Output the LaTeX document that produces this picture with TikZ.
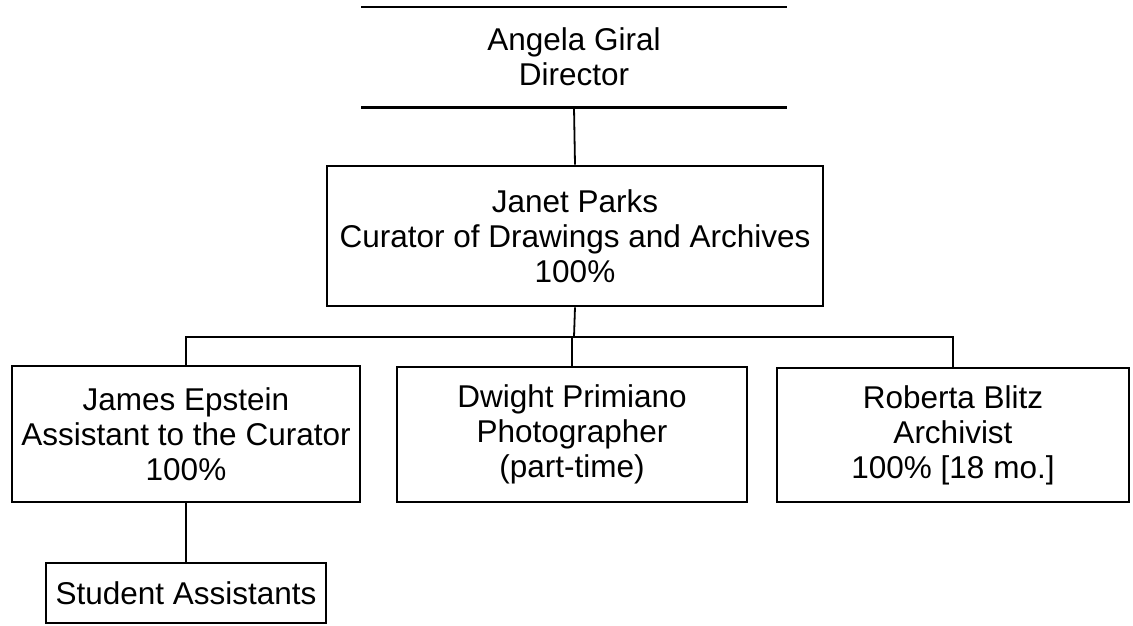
\documentclass[tikz,border=0pt]{standalone}
\usepackage{fontspec}
\setmainfont{Liberation Sans}
\begin{document}
\begin{tikzpicture}[x=1pt,y=-1pt,
  txt/.style={align=center,font=\fontsize{31.5}{35}\selectfont,inner sep=0pt},
  box/.style={txt,draw,line width=2.6pt},
  conn/.style={line width=1.8pt}]
\useasboundingbox (0,0) rectangle (1133,625);
\node[txt,minimum width=425pt,minimum height=100pt] (b1) at (574,57) {Angela Giral\\Director};
\draw[line width=2.6pt] (b1.north west) -- (b1.north east);
\draw[line width=2.6pt] (b1.south west) -- (b1.south east);
\node[box,minimum width=496pt,minimum height=140pt] (b2) at (575,236) {Janet Parks\\Curator of Drawings and Archives\\100\%};
\node[box,minimum width=348pt,minimum height=136pt] (b3) at (186,434) {James Epstein\\Assistant to the Curator\\100\%};
\node[box,minimum width=350pt,minimum height=135pt] (b4) at (572,434.5) {Dwight Primiano\\Photographer\\(part-time)};
\node[box,minimum width=352pt,minimum height=134pt] (b5) at (953,435) {Roberta Blitz\\Archivist\\100\% [18 mo.]};
\node[box,minimum width=280pt,minimum height=60pt] (b6) at (186,593) {Student Assistants};
\coordinate (bus) at (574,337);
\draw[conn] (b1.south) -- (b2.north);
\draw[conn] (b2.south) -- (bus);
\draw[conn] (b3.north) |- (bus) -| (b5.north);
\draw[conn] (b4.north) -- (b4.north |- bus);
\draw[conn] (b3.south) -- (b6.north);
\end{tikzpicture}
\end{document}
